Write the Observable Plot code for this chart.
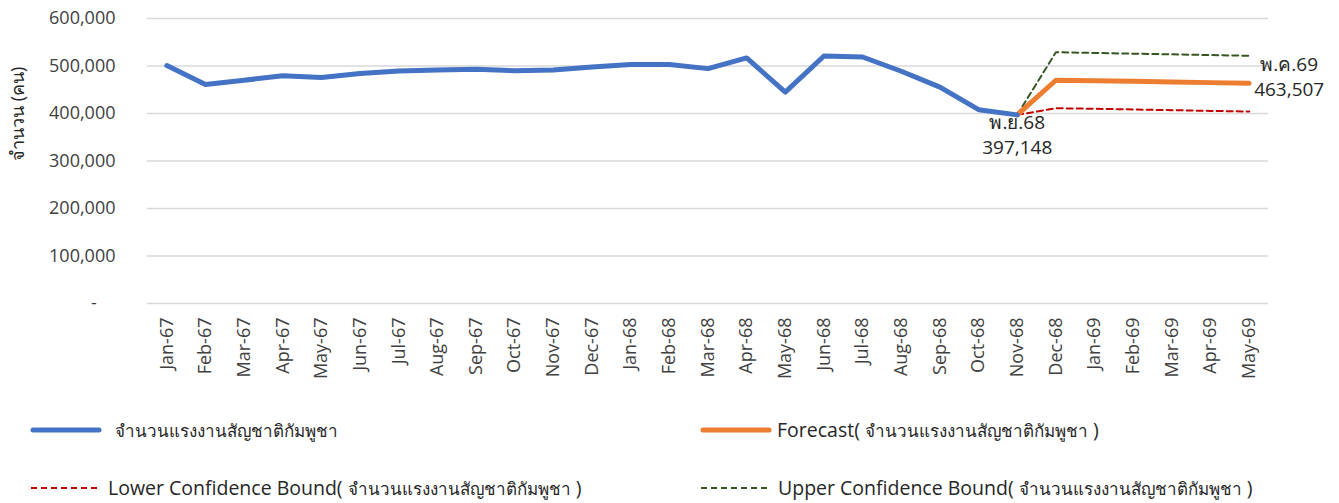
<!DOCTYPE html>
<html><head><meta charset="utf-8">
<script src="https://cdn.jsdelivr.net/npm/d3@7"></script>
<script src="https://cdn.jsdelivr.net/npm/@observablehq/plot@0.6"></script>
<style>
body{margin:0;background:#fff;font-family:"Open Sans","Noto Sans",sans-serif;}
#legend{position:relative;width:1339px;height:103px;font-size:19.5px;color:#262626;}
.item{position:absolute;display:flex;align-items:center;height:26px;white-space:nowrap;}
.item svg{display:block;}
.th{font-size:17px;}
</style></head><body><div id="chart"></div><div id="legend"></div>
<script>
const months = ["Jan-67","Feb-67","Mar-67","Apr-67","May-67","Jun-67","Jul-67","Aug-67","Sep-67","Oct-67","Nov-67","Dec-67",
  "Jan-68","Feb-68","Mar-68","Apr-68","May-68","Jun-68","Jul-68","Aug-68","Sep-68","Oct-68","Nov-68","Dec-68",
  "Jan-69","Feb-69","Mar-69","Apr-69","May-69"];
const actualMonths = months.slice(0, 23);
const actual = [501000,461000,470000,479500,476000,484000,489500,491500,493000,490000,491500,498000,
  503000,503000,494500,517000,445000,521000,519000,489000,455500,408000,397148];
const forecastMonths = ["Nov-68","Dec-68","Jan-69","Feb-69","Mar-69","Apr-69","May-69"];
const forecast = [397148,470000,469000,467800,466500,465000,463507];
const lower = [397148,411000,410000,408500,407000,405500,404000];
const upper = [397148,529000,527500,526000,524500,523000,521500];
const yTicks = [0,100000,200000,300000,400000,500000,600000];
const seriesNames = ["จำนวนแรงงานสัญชาติกัมพูชา","Forecast( จำนวนแรงงานสัญชาติกัมพูชา )","Lower Confidence Bound( จำนวนแรงงานสัญชาติกัมพูชา )","Upper Confidence Bound( จำนวนแรงงานสัญชาติกัมพูชา )"];
const yLabel = "จำนวน (คน)";
const noteStart = "พ.ย.68";
const noteEnd = "พ.ค.69";

const actualData = actualMonths.map((m,i)=>({m, v: actual[i]}));
const fc = forecastMonths.map((m,i)=>({m, v: forecast[i], lo: lower[i], hi: upper[i]}));
const fmt = d3.format(",");

const chart = Plot.plot({
  width: 1339, height: 400,
  marginLeft: 147, marginRight: 71, marginTop: 18, marginBottom: 97,
  style: {fontFamily: '"Open Sans","Noto Sans",sans-serif', fontSize: "18px", color: "#404040", background: "#fff"},
  x: {type: "point", domain: months, padding: 0.5, round: false, label: null},
  y: {domain: [0, 600000], label: null},
  marks: [
    Plot.ruleY(yTicks, {stroke: "#d9d9d9", strokeWidth: 1.5}),
    Plot.axisY({ticks: yTicks, tickSize: 0, tickPadding: 32, fontSize: 18,
      tickFormat: d => d === 0 ? "-\u00a0\u00a0\u00a0\u00a0" : fmt(d)}),
    Plot.axisX({tickSize: 0, tickRotate: -90, tickPadding: 14, fontSize: 18}),
    Plot.text([yLabel], {frameAnchor: "left", rotate: -90, dx: -129, fontSize: 18, fill: "#262626"}),
    Plot.line(fc, {x: "m", y: "hi", stroke: "#375623", strokeWidth: 2, strokeDasharray: "6,4"}),
    Plot.line(fc, {x: "m", y: "lo", stroke: "#C00000", strokeWidth: 2, strokeDasharray: "6,4"}),
    Plot.line(fc, {x: "m", y: "v", stroke: "#ED7D31", strokeWidth: 5, strokeLinecap: "round"}),
    Plot.line(actualData, {x: "m", y: "v", stroke: "#4472C4", strokeWidth: 5, strokeLinecap: "round", strokeLinejoin: "round"}),
    Plot.text([actualData[actualData.length-1]], {x: "m", y: "v", text: d => noteStart + "\n" + fmt(d.v),
      lineAnchor: "top", dy: -4, fontSize: 19, lineHeight: 1.32, fill: "#262626"}),
    Plot.text([fc[fc.length-1]], {x: "m", y: "v", text: d => noteEnd + "\n" + fmt(d.v),
      lineAnchor: "middle", dx: 40, dy: -8, fontSize: 19, lineHeight: 1.32, fill: "#262626"})
  ]
});
document.getElementById("chart").appendChild(chart);

const legend = document.getElementById("legend");
const items = [
  {name: seriesNames[0], color: "#4472C4", w: 5, dash: null, left: 30, top: 17, gap: 13},
  {name: seriesNames[1], color: "#ED7D31", w: 5, dash: null, left: 700, top: 17, gap: 5},
  {name: seriesNames[2], color: "#C00000", w: 2, dash: "6,4", left: 30, top: 75, gap: 6},
  {name: seriesNames[3], color: "#375623", w: 2, dash: "6,4", left: 700, top: 75, gap: 6}
];
for (const it of items) {
  const div = document.createElement("div");
  div.className = "item";
  div.style.left = it.left + "px";
  div.style.top = it.top + "px";
  const cap = it.dash ? "butt" : "round";
  const label = it.name.replace(/[\u0E00-\u0E7F]+/g, s => `<span class="th">${s}</span>`);
  div.innerHTML = `<svg width="72" height="10"><line x1="${it.dash?1:3}" x2="${it.dash?70:69}" y1="5" y2="5" stroke="${it.color}" stroke-width="${it.w}" stroke-linecap="${cap}" ${it.dash?`stroke-dasharray="${it.dash}"`:""}/></svg><span style="margin-left:${it.gap}px">${label}</span>`;
  legend.appendChild(div);
}
</script></body></html>
